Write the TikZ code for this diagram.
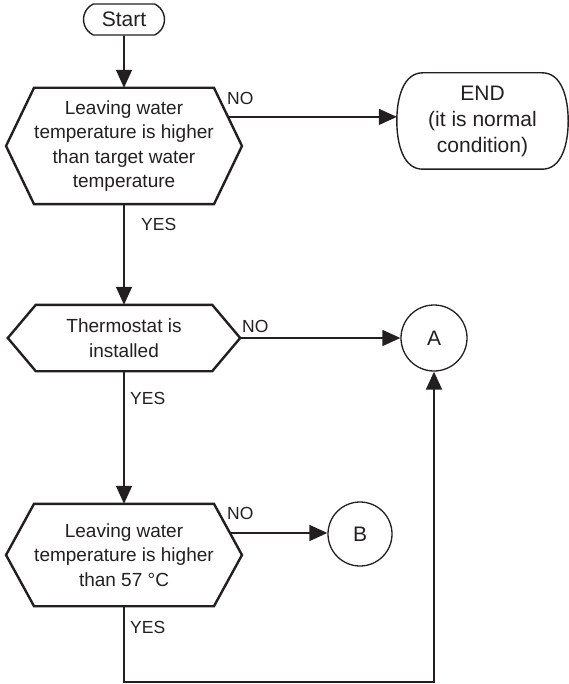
\documentclass[tikz,border=0pt]{standalone}
\usepackage{fontspec}
\setmainfont{Liberation Sans}
\usetikzlibrary{calc,arrows.meta,shapes.misc}
\definecolor{ink}{RGB}{35,31,32}

\begin{document}
\begin{tikzpicture}[x=1pt, y=-1pt, >={Triangle[length=18pt,width=16pt]}, ink,
        flow/.style={->, line width=1.6pt},
        decision/.style={minimum width=176pt, inner sep=0pt, align=center, font=\fontsize{19}{24.5}\selectfont},
        hexline/.style={line width=2.4pt, line join=miter},
        terminal/.style={inner sep=0pt, align=center, font=\fontsize{21}{26}\selectfont},
        connector/.style={draw, circle, line width=1.3pt, inner sep=0pt, font=\fontsize{21}{21}\selectfont},
        answer/.style={anchor=west, inner sep=0pt, font=\fontsize{17.5}{17.5}\selectfont}]
        \def\tipW{28}
        \useasboundingbox (0,0) rectangle (569,684);

        \node[terminal, draw, rounded rectangle, rounded rectangle arc length=130, line width=1.4pt, minimum width=81pt, minimum height=31pt] (start) at (124,19.5) {Start};
        \node[decision, minimum height=116pt] (leave) at (124,146) {Leaving water\\temperature is higher\\than target water\\temperature};
        \node[decision, minimum height=66pt] (thermo) at (124,338) {Thermostat is\\installed};
        \node[decision, minimum height=102pt] (over57) at (124,555) {Leaving water\\temperature is higher\\than 57 \textdegree C};
        \node[terminal, minimum width=171pt, minimum height=96pt] (stop) at (482.5,121) {END\\(it is normal\\condition)};
        \node[connector, minimum size=66pt] (conA) at (434,338) {A};
        \node[connector, minimum size=64pt] (conB) at (360,534) {B};

        \foreach \n in {leave,thermo,over57} {
            \coordinate (\n-r) at ($(\n.east)+(\tipW,0)$);
            \coordinate (\n-l) at ($(\n.west)-(\tipW,0)$);
            \draw[hexline] (\n.north west) -- (\n.north east) -- (\n-r) -- (\n.south east) -- (\n.south west) -- (\n-l) -- cycle;
        }
        \draw[line width=1.4pt] ($(stop.north west)+(26,0)$) -- ($(stop.north east)-(26,0)$)
            .. controls +(20,0) and +(0,-22) .. (stop.east)
            .. controls +(0,22) and +(20,0) .. ($(stop.south east)-(26,0)$) -- ($(stop.south west)+(26,0)$)
            .. controls +(-20,0) and +(0,22) .. (stop.west)
            .. controls +(0,-22) and +(-20,0) .. cycle;
        \coordinate (leave-no) at ($(leave.north east)!0.5!(leave-r)$);
        \coordinate (over57-no) at ($(over57.north east)!0.57!(over57-r)$);

        \draw[flow] (start) -- (leave);
        \draw[flow] (leave-no) -- (stop.west |- leave-no);
        \draw[flow] (leave) -- (thermo);
        \draw[flow] (thermo-r) -- (conA);
        \draw[flow] (thermo) -- (over57);
        \draw[flow] (over57-no) -- (conB.west |- over57-no);
        \draw[flow] (over57.south) -- ++(0,76) -| (conA.south);

        \node[answer] at (227,98) {NO};
        \node[answer] at (141,224) {YES};
        \node[answer] at (242,326) {NO};
        \node[answer] at (130,398) {YES};
        \node[answer] at (227,513) {NO};
        \node[answer] at (130,627) {YES};
    \end{tikzpicture}
\end{document}
